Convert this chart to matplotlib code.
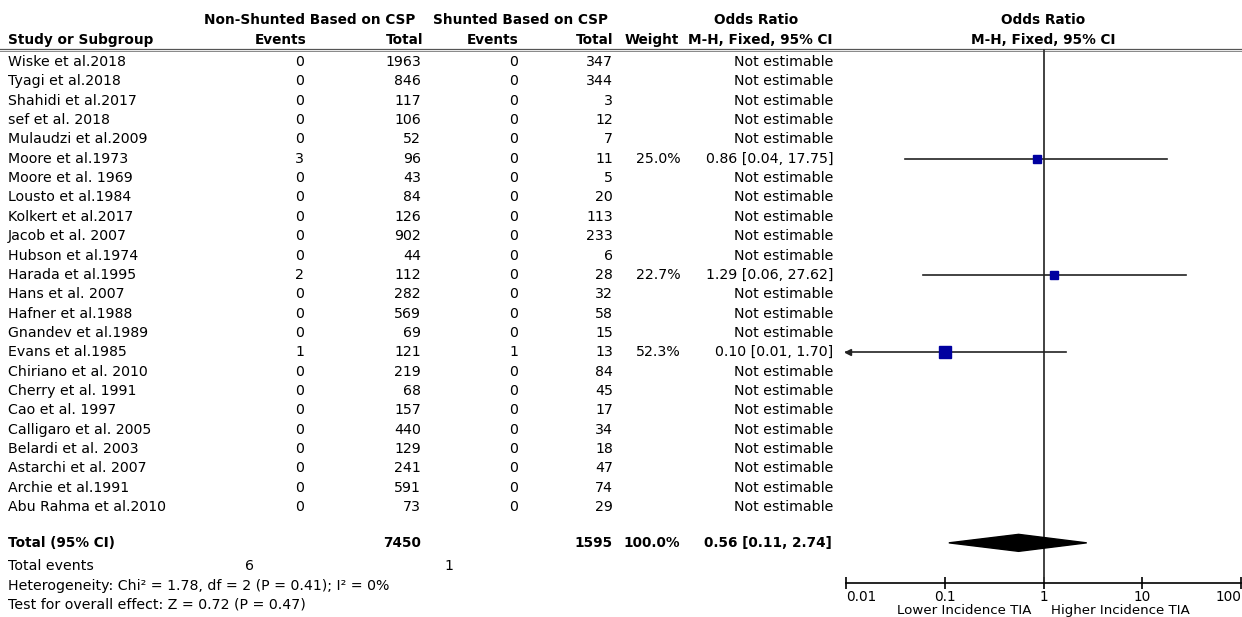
import numpy as np
import matplotlib
matplotlib.use("Agg")
from matplotlib import pyplot as plt

# podaci iz forest plota
studije = ["Wiske et al.2018", "Tyagi et al.2018", "Shahidi et al.2017", "sef et al. 2018",
           "Mulaudzi et al.2009", "Moore et al.1973", "Moore et al. 1969", "Lousto et al.1984",
           "Kolkert et al.2017", "Jacob et al. 2007", "Hubson et al.1974", "Harada et al.1995",
           "Hans et al. 2007", "Hafner et al.1988", "Gnandev et al.1989", "Evans et al.1985",
           "Chiriano et al. 2010", "Cherry et al. 1991", "Cao et al. 1997", "Calligaro et al. 2005",
           "Belardi et al. 2003", "Astarchi et al. 2007", "Archie et al.1991", "Abu Rahma et al.2010"]
ev_non = [0, 0, 0, 0, 0, 3, 0, 0, 0, 0, 0, 2, 0, 0, 0, 1, 0, 0, 0, 0, 0, 0, 0, 0]
tot_non = [1963, 846, 117, 106, 52, 96, 43, 84, 126, 902, 44, 112, 282, 569, 69, 121,
           219, 68, 157, 440, 129, 241, 591, 73]
ev_sh = [0, 0, 0, 0, 0, 0, 0, 0, 0, 0, 0, 0, 0, 0, 0, 1, 0, 0, 0, 0, 0, 0, 0, 0]
tot_sh = [347, 344, 3, 12, 7, 11, 5, 20, 113, 233, 6, 28, 32, 58, 15, 13,
          84, 45, 17, 34, 18, 47, 74, 29]

# procjene (samo za studije koje se mogu procijeniti)
est_idx = [5, 11, 15]
est_w = [25.0, 22.7, 52.3]
est_or = [0.86, 1.29, 0.10]
est_lo = [0.04, 0.06, 0.01]
est_hi = [17.75, 27.62, 1.70]

tot_or, tot_lo, tot_hi = 0.56, 0.11, 2.74
ukupno_non, ukupno_sh = 7450, 1595
ukupno_ev_non, ukupno_ev_sh = 6, 1

xticks = [0.01, 0.1, 1, 10, 100]
xtick_labels = ["0.01", "0.1", "1", "10", "100"]

plt.rcParams['font.family'] = ['DejaVu Sans']
fs = 10.2    # obicni tekst
fb = 9.8     # podebljani tekst

fig = plt.figure(figsize=(12.42, 6.17), dpi=100)
ax = fig.add_axes([0, 0, 1, 1])
ax.set_xlim(0, 1242)
ax.set_ylim(617, 0)
ax.axis("off")


def red_y(i):
    return 62 + 19.35 * i


# zaglavlje
ax.text(310, 20, "Non-Shunted Based on CSP", ha="center", va="center", fontsize=fb, fontweight="bold")
ax.text(520, 20, "Shunted Based on CSP", ha="center", va="center", fontsize=fb, fontweight="bold")
ax.text(756, 20, "Odds Ratio", ha="center", va="center", fontsize=fb, fontweight="bold")
ax.text(1043, 20, "Odds Ratio", ha="center", va="center", fontsize=fb, fontweight="bold")
ax.text(8, 40, "Study or Subgroup", ha="left", va="center", fontsize=fb, fontweight="bold")
ax.text(306, 40, "Events", ha="right", va="center", fontsize=fb, fontweight="bold")
ax.text(423, 40, "Total", ha="right", va="center", fontsize=fb, fontweight="bold")
ax.text(518, 40, "Events", ha="right", va="center", fontsize=fb, fontweight="bold")
ax.text(613, 40, "Total", ha="right", va="center", fontsize=fb, fontweight="bold")
ax.text(679, 40, "Weight", ha="right", va="center", fontsize=fb, fontweight="bold")
ax.text(833, 40, "M-H, Fixed, 95% CI", ha="right", va="center", fontsize=fb, fontweight="bold")
ax.text(1043, 40, "M-H, Fixed, 95% CI", ha="center", va="center", fontsize=fb, fontweight="bold")
ax.plot([0, 1242], [48.5, 48.5], color="#555555", lw=0.9)
ax.plot([0, 1242], [50.8, 50.8], color="#888888", lw=0.7)

# redovi studija
for i, ime in enumerate(studije):
    y = red_y(i)
    ax.text(8, y, ime, ha="left", va="center", fontsize=fs)
    ax.text(304, y, str(ev_non[i]), ha="right", va="center", fontsize=fs)
    ax.text(421, y, str(tot_non[i]), ha="right", va="center", fontsize=fs)
    ax.text(518, y, str(ev_sh[i]), ha="right", va="center", fontsize=fs)
    ax.text(613, y, str(tot_sh[i]), ha="right", va="center", fontsize=fs)
    if i in est_idx:
        k = est_idx.index(i)
        ax.text(681, y, f"{est_w[k]:.1f}%", ha="right", va="center", fontsize=fs)
        ax.text(833, y, f"{est_or[k]:.2f} [{est_lo[k]:.2f}, {est_hi[k]:.2f}]",
                ha="right", va="center", fontsize=fs)
    else:
        ax.text(833, y, "Not estimable", ha="right", va="center", fontsize=fs)

# ukupno
y_tot = red_y(24.85)
ax.text(8, y_tot, "Total (95% CI)", ha="left", va="center", fontsize=fb, fontweight="bold")
ax.text(421, y_tot, str(ukupno_non), ha="right", va="center", fontsize=fb, fontweight="bold")
ax.text(613, y_tot, str(ukupno_sh), ha="right", va="center", fontsize=fb, fontweight="bold")
ax.text(680, y_tot, "100.0%", ha="right", va="center", fontsize=fb, fontweight="bold")
ax.text(832, y_tot, f"{tot_or:.2f} [{tot_lo:.2f}, {tot_hi:.2f}]", ha="right", va="center",
        fontsize=fb, fontweight="bold")
ax.text(8, red_y(26.05), "Total events", ha="left", va="center", fontsize=fs)
ax.text(254, red_y(26.05), str(ukupno_ev_non), ha="right", va="center", fontsize=fs)
ax.text(453, red_y(26.05), str(ukupno_ev_sh), ha="right", va="center", fontsize=fs)
ax.text(8, red_y(27.1), "Heterogeneity: Chi² = 1.78, df = 2 (P = 0.41); I² = 0%",
        ha="left", va="center", fontsize=fs)
ax.text(8, red_y(28.05), "Test for overall effect: Z = 0.72 (P = 0.47)",
        ha="left", va="center", fontsize=fs)

# forest plot
fax = fig.add_axes([846 / 1242, (617 - 583) / 617, (1241 - 846) / 1242, (583 - 49) / 617])
fax.set_xscale("log")
fax.set_xlim(0.01, 100)
fax.set_ylim(583, 49)
fax.patch.set_alpha(0)
for s in ["top", "left", "right"]:
    fax.spines[s].set_visible(False)
fax.spines["bottom"].set_linewidth(1.2)
fax.set_yticks([])
fax.set_xticks(xticks)
fax.set_xticklabels(xtick_labels, fontsize=9.8)
fax.minorticks_off()
fax.tick_params(axis="x", direction="inout", length=8, width=1.2, pad=1)
oznake = fax.get_xticklabels()
oznake[0].set_horizontalalignment("left")
oznake[-1].set_horizontalalignment("right")

fax.axvline(1, color="#333333", lw=1.3)

for k, i in enumerate(est_idx):
    y = red_y(i)
    fax.plot([est_lo[k], est_hi[k]], [y, y], color="#222222", lw=1.2, clip_on=False)
    strana = 1.7 * np.sqrt(est_w[k])
    fax.plot(est_or[k], y, marker="s", color="#0000a0", markersize=strana * 0.72,
             linestyle="none", zorder=3)
    if est_lo[k] <= 0.01:
        fax.plot(0.0105, y, marker="<", color="#222222", markersize=4, clip_on=False)

# romb ukupne procjene
yd = red_y(24.85)
fax.fill([tot_lo, tot_or, tot_hi, tot_or], [yd, yd - 8.5, yd, yd + 8.5], color="black", zorder=3)

ax.text(1031, 614, "Lower Incidence TIA", ha="right", va="baseline", fontsize=9.6)
ax.text(1051, 614, "Higher Incidence TIA", ha="left", va="baseline", fontsize=9.6)

fig.savefig("out.png", dpi=100)
